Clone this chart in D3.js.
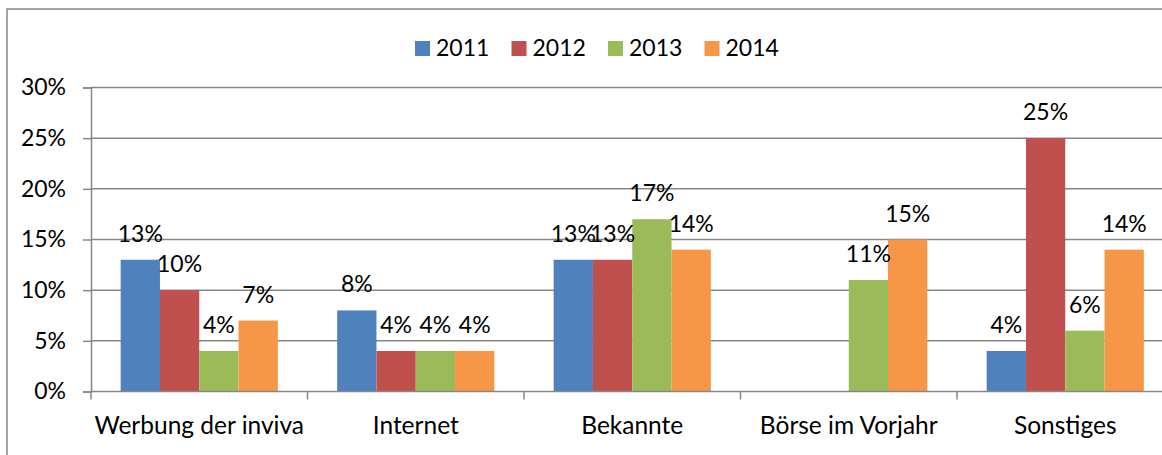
<!DOCTYPE html>
<html>
<head>
<meta charset="utf-8">
<script src="https://cdn.jsdelivr.net/npm/d3@7"></script>
<style>
  html, body { margin: 0; padding: 0; background: #fff; }
  svg { display: block; }
  text { font-family: Lato, "Open Sans", sans-serif; fill: #000; }
</style>
</head>
<body>
<svg id="chart" width="1162" height="455"></svg>
<script>
const categories = ["Werbung der inviva", "Internet", "Bekannte", "Börse im Vorjahr", "Sonstiges"];
const seriesNames = ["2011", "2012", "2013", "2014"];
const values2011 = [0.13, 0.08, 0.13, null, 0.04];
const values2012 = [0.10, 0.04, 0.13, null, 0.25];
const values2013 = [0.04, 0.04, 0.17, 0.11, 0.06];
const values2014 = [0.07, 0.04, 0.14, 0.15, 0.14];
const yTicks = [0, 0.05, 0.10, 0.15, 0.20, 0.25, 0.30];
const colors = ["#4F81BD", "#C0504D", "#9BBB59", "#F79646"];

const seriesValues = [values2011, values2012, values2013, values2014];

const svg = d3.select("#chart");
const W = 1162, H = 455;
const plot = { left: 91, top: 87.5, right: 1173.5, bottom: 391.5 };
const gridColor = "#878787";
const fontSize = 23;
const catFontSize = 24.5;

// outer chart frame
svg.append("rect")
  .attr("x", 7).attr("y", 9)
  .attr("width", W + 20).attr("height", H + 20)
  .attr("fill", "none").attr("stroke", gridColor).attr("stroke-width", 1.5);

const x0 = d3.scaleBand().domain(categories).range([plot.left, plot.right]).paddingInner(0).paddingOuter(0);
const x1 = d3.scaleBand().domain(seriesNames).range([0, x0.bandwidth()]).paddingInner(0).paddingOuter(0.755);
const y = d3.scaleLinear().domain([0, 0.30]).range([plot.bottom, plot.top]);
const color = d3.scaleOrdinal().domain(seriesNames).range(colors);
const pct = d3.format(".0%");

// gridlines
svg.append("g")
  .selectAll("line")
  .data(yTicks.filter(t => t > 0))
  .join("line")
  .attr("x1", plot.left).attr("x2", W)
  .attr("y1", d => y(d)).attr("y2", d => y(d))
  .attr("stroke", gridColor).attr("stroke-width", 1.5);

// bars
const flat = [];
categories.forEach((c, ci) => {
  seriesNames.forEach((s, si) => {
    const v = seriesValues[si][ci];
    if (v !== null) flat.push({ c, s, v });
  });
});

svg.append("g")
  .selectAll("rect")
  .data(flat)
  .join("rect")
  .attr("x", d => x0(d.c) + x1(d.s))
  .attr("width", x1.bandwidth())
  .attr("y", d => y(d.v))
  .attr("height", d => y(0) - y(d.v))
  .attr("fill", d => color(d.s));

// data labels
svg.append("g")
  .selectAll("text")
  .data(flat)
  .join("text")
  .attr("x", d => x0(d.c) + x1(d.s) + x1.bandwidth() / 2)
  .attr("y", d => y(d.v) - 18)
  .attr("text-anchor", "middle")
  .style("font-size", fontSize + "px")
  .text(d => pct(d.v));

// y axis
const yAxis = d3.axisLeft(y).tickValues(yTicks).tickFormat(pct).tickSize(8).tickPadding(17);
const gy = svg.append("g").attr("transform", `translate(${plot.left},0)`).call(yAxis);
gy.select(".domain").attr("stroke", gridColor).attr("stroke-width", 1.5);
gy.selectAll(".tick line").attr("stroke", gridColor).attr("stroke-width", 1.5);
gy.selectAll(".tick text").style("font-size", fontSize + "px").style("font-family", "Lato, sans-serif").attr("fill", "#000");

// x axis
const xAxis = d3.axisBottom(x0).tickSize(0).tickPadding(0);
const gx = svg.append("g").attr("transform", `translate(0,${plot.bottom})`).call(xAxis);
gx.select(".domain").remove();
gx.selectAll(".tick text").attr("y", 42).attr("dy", 0).style("font-size", catFontSize + "px").style("font-family", "Lato, sans-serif").attr("fill", "#000");
svg.append("line").attr("x1", plot.left).attr("x2", W).attr("y1", plot.bottom).attr("y2", plot.bottom)
  .attr("stroke", gridColor).attr("stroke-width", 1.5);
// category separator ticks
svg.append("g").selectAll("line")
  .data(categories.map(c => x0(c)).concat([plot.right]))
  .join("line")
  .attr("x1", d => d).attr("x2", d => d)
  .attr("y1", plot.bottom).attr("y2", plot.bottom + 8)
  .attr("stroke", gridColor).attr("stroke-width", 1.5);

// legend
const legend = svg.append("g").attr("transform", "translate(415,41)");
const items = legend.selectAll("g").data(seriesNames).join("g")
  .attr("transform", (d, i) => `translate(${i * 96.5},0)`);
items.append("rect").attr("width", 15).attr("height", 15).attr("fill", d => color(d));
items.append("text").attr("x", 21).attr("y", 15).style("font-size", fontSize + "px").text(d => d);
</script>
</body>
</html>
